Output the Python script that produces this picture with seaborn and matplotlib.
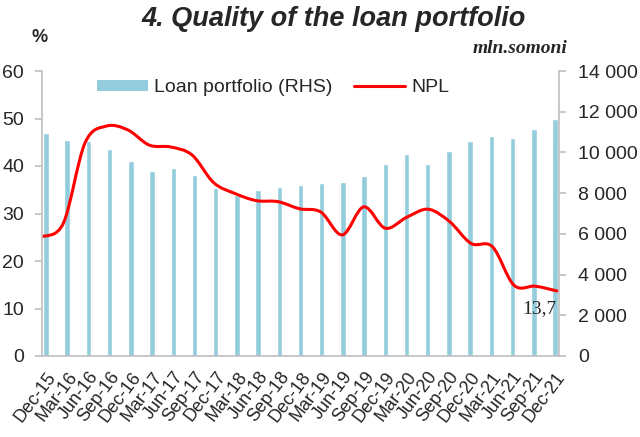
import numpy as np
import pandas as pd
import matplotlib
matplotlib.use("Agg")
import matplotlib.pyplot as plt
import seaborn as sns
from matplotlib.path import Path
from matplotlib.patches import PathPatch, Patch
from matplotlib.lines import Line2D

# ------------------ DATA ------------------
quarters = ["Dec-15", "Mar-16", "Jun-16", "Sep-16", "Dec-16", "Mar-17", "Jun-17",
            "Sep-17", "Dec-17", "Mar-18", "Jun-18", "Sep-18", "Dec-18", "Mar-19",
            "Jun-19", "Sep-19", "Dec-19", "Mar-20", "Jun-20", "Sep-20", "Dec-20",
            "Mar-21", "Jun-21", "Sep-21", "Dec-21"]

# loan portfolio, mln. somoni (right axis)
loan_portfolio = [10940, 10610, 10560, 10150, 9560, 9070, 9220, 8880, 8270, 7910,
                  8140, 8300, 8400, 8500, 8560, 8860, 9430, 9900, 9430, 10050,
                  10580, 10820, 10710, 11150, 11630]

# non-performing loans, % (left axis)
npl = [25.1, 28.0, 44.8, 48.4, 47.6, 44.4, 44.0, 42.3, 36.5, 34.2, 32.7, 32.5,
       31.0, 30.3, 25.5, 31.4, 26.9, 29.2, 30.9, 28.3, 23.7, 23.0, 14.9, 14.7, 13.7]

left_ticks = [0, 10, 20, 30, 40, 50, 60]
right_ticks = [0, 2000, 4000, 6000, 8000, 10000, 12000, 14000]

BAR_COLOR = "#93CDDD"
LINE_COLOR = "#FF0000"
SPINE_COLOR = "#BFBFBF"

# ------------------ STYLE ------------------
sns.set_theme(style="white")
plt.rcParams["font.family"] = ["Liberation Sans", "DejaVu Sans"]

df = pd.DataFrame({"quarter": quarters, "loans": loan_portfolio, "npl": npl})

fig = plt.figure(figsize=(6.4, 4.37), dpi=100)
rect = [42 / 640, 81 / 437, 517 / 640, 285 / 437]

# ------------------ BARS (RHS) ------------------
ax_bar = fig.add_axes(rect)
sns.barplot(data=df, x="quarter", y="loans", color=BAR_COLOR, width=0.26,
            saturation=1, ax=ax_bar)
ax_bar.set_xlim(-0.19, len(quarters) - 1 + 0.19)
ax_bar.set_ylim(0, 14000)
ax_bar.set_xlabel("")
ax_bar.set_ylabel("")
ax_bar.yaxis.tick_right()
ax_bar.set_yticks(right_ticks)
ax_bar.set_yticklabels([f"{v:,.0f}".replace(",", " ") for v in right_ticks])
ax_bar.tick_params(axis="y", direction="out", length=5, width=1.2,
                   color=SPINE_COLOR, labelsize=14, pad=9, right=True)
ax_bar.set_xticks(range(len(quarters)))
ax_bar.set_xticklabels(quarters, rotation=53, ha="right", rotation_mode="anchor",
                       fontsize=13)
ax_bar.tick_params(axis="x", length=0, pad=9)
for side in ["left", "top"]:
    ax_bar.spines[side].set_visible(False)
for side in ["right", "bottom"]:
    ax_bar.spines[side].set_color(SPINE_COLOR)
    ax_bar.spines[side].set_linewidth(1.2)

# ------------------ NPL LINE (LHS) ------------------
ax_line = fig.add_axes(rect)
ax_line.patch.set_visible(False)
ax_line.set_xlim(0, len(npl) - 1 + 0.1)
ax_line.set_ylim(0, 60)
ax_line.set_xticks([])
ax_line.set_yticks(left_ticks)
ax_line.tick_params(axis="y", direction="out", length=5, width=1.2,
                    color=SPINE_COLOR, labelsize=14, pad=8, left=True)
for side in ["right", "top", "bottom"]:
    ax_line.spines[side].set_visible(False)
ax_line.spines["left"].set_color(SPINE_COLOR)
ax_line.spines["left"].set_linewidth(1.2)

# smoothed line like Excel: cubic bezier through the points
xs = np.arange(len(npl), dtype=float)
ys = np.array(npl, dtype=float)
verts = [(xs[0], ys[0])]
codes = [Path.MOVETO]
n = len(xs)
for i in range(n - 1):
    p_prev = max(i - 1, 0)
    p_next = min(i + 2, n - 1)
    c1 = (xs[i] + (xs[i + 1] - xs[p_prev]) / 6, ys[i] + (ys[i + 1] - ys[p_prev]) / 6)
    c2 = (xs[i + 1] - (xs[p_next] - xs[i]) / 6, ys[i + 1] - (ys[p_next] - ys[i]) / 6)
    verts += [c1, c2, (xs[i + 1], ys[i + 1])]
    codes += [Path.CURVE4, Path.CURVE4, Path.CURVE4]
ax_line.add_patch(PathPatch(Path(verts, codes), facecolor="none",
                            edgecolor=LINE_COLOR, linewidth=2.2,
                            capstyle="round", joinstyle="round"))

ax_line.annotate(f"{npl[-1]:.1f}".replace(".", ","), xy=(xs[-1], ys[-1]),
                 xytext=(0, -13), textcoords="offset points", ha="right",
                 va="center", fontsize=14, family=["Liberation Serif"])

# ------------------ LEGEND & TEXT ------------------
handles = [Patch(facecolor=BAR_COLOR, edgecolor="none"),
           Line2D([], [], color=LINE_COLOR, linewidth=2.2)]
fig.legend(handles, ["Loan portfolio (RHS)", "NPL"], ncol=2, frameon=False,
           fontsize=14, loc="center left", bbox_to_anchor=(97 / 640, 1 - 88 / 437),
           borderpad=0, borderaxespad=0, handlelength=2.6, handleheight=0.55,
           handletextpad=0.35, columnspacing=1.1)

fig.text(334 / 640, 1 - 26 / 437, "4. Quality of the loan portfolio", ha="center",
         va="baseline", fontsize=19.5, fontweight="bold", fontstyle="italic")
fig.text(40 / 640, 1 - 42 / 437, "%", ha="center", va="baseline", fontsize=13,
         fontweight="bold")
fig.text(567 / 640, 1 - 53 / 437, "mln.somoni", ha="right", va="baseline",
         fontsize=14, fontweight="bold", fontstyle="italic",
         family=["Liberation Serif"])

fig.savefig("out.png", dpi=100)
